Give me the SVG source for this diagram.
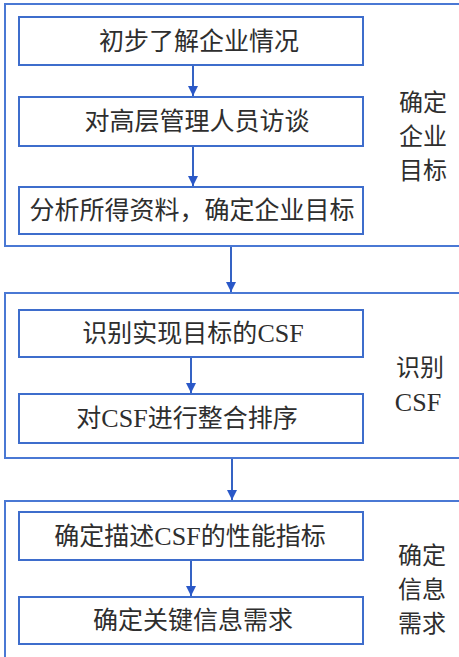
<svg xmlns="http://www.w3.org/2000/svg" width="459" height="657" viewBox="0 0 459 657">
<defs>
<style>
.outer{fill:none;stroke:#4a78d4;stroke-width:2}
.box{fill:#ffffff;stroke:#3e6dcc;stroke-width:2}
.t{font-family:"Noto Sans CJK SC","Liberation Sans",sans-serif;font-size:25px;fill:#2e2e2e;text-anchor:middle}
.l{font-size:24px}
.s{font-family:"Liberation Serif",serif;font-size:26px}
.c{stroke:#3563c4;stroke-width:2;fill:none;marker-end:url(#ah)}
</style>
<marker id="ah" viewBox="0 0 10 10" refX="10" refY="5" markerWidth="10" markerHeight="10" markerUnits="userSpaceOnUse" orient="auto">
<path d="M0,0 L10,5 L0,10 z" fill="#2a58c8"/>
</marker>
</defs>
<rect width="459" height="657" fill="#ffffff"/>
<g id="stage1">
<rect class="outer" x="5" y="4" width="460" height="242"/>
<text class="t l" x="423" y="111">确定</text>
<text class="t l" x="423" y="145">企业</text>
<text class="t l" x="423" y="179">目标</text>
</g>
<g id="stage2">
<rect class="outer" x="5" y="293" width="460" height="165"/>
<text class="t l" x="420" y="376">识别</text>
<text class="t s" x="418" y="411">CSF</text>
</g>
<g id="stage3">
<rect class="outer" x="5" y="501" width="460" height="160"/>
<text class="t l" x="422" y="564">确定</text>
<text class="t l" x="422" y="598">信息</text>
<text class="t l" x="422" y="632">需求</text>
</g>
<g id="n1"><rect class="box" x="19" y="17" width="344" height="48"/><text class="t" x="199" y="50">初步了解企业情况</text></g>
<g id="n2"><rect class="box" x="19" y="97" width="344" height="49"/><text class="t" x="197" y="130">对高层管理人员访谈</text></g>
<g id="n3"><rect class="box" x="19" y="187" width="344" height="47"/><text class="t" x="192" y="219">分析所得资料，确定企业目标</text></g>
<g id="n4"><rect class="box" x="19" y="310" width="344" height="47"/><text class="t" x="193" y="342">识别实现目标的<tspan class="s">CSF</tspan></text></g>
<g id="n5"><rect class="box" x="19" y="394" width="344" height="49"/><text class="t" x="187" y="427">对<tspan class="s">CSF</tspan>进行整合排序</text></g>
<g id="n6"><rect class="box" x="19" y="512" width="344" height="48"/><text class="t" x="190" y="545">确定描述<tspan class="s">CSF</tspan>的性能指标</text></g>
<g id="n7"><rect class="box" x="19" y="597" width="344" height="47"/><text class="t" x="193" y="629">确定关键信息需求</text></g>
<g id="connectors">
<line class="c" x1="193" y1="66" x2="193" y2="96"/>
<line class="c" x1="193" y1="147" x2="193" y2="186"/>
<line class="c" x1="231" y1="247" x2="231" y2="292"/>
<line class="c" x1="191" y1="358" x2="191" y2="393"/>
<line class="c" x1="232" y1="459" x2="232" y2="500"/>
<line class="c" x1="191" y1="561" x2="191" y2="596"/>
</g>
</svg>
